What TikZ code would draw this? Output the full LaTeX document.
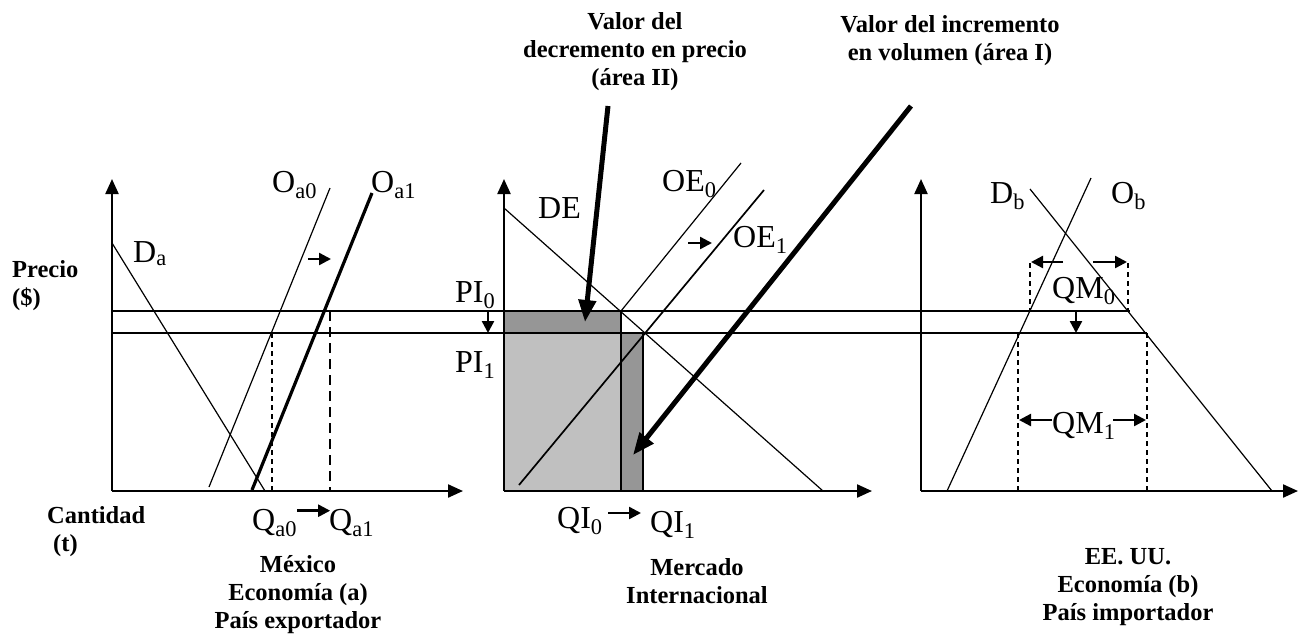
\documentclass[tikz,border=0pt]{standalone}
\usepackage{fontspec}
\setmainfont{Liberation Serif}
\usetikzlibrary{arrows.meta}
\definecolor{darkg}{RGB}{150,150,150}
\definecolor{lightg}{RGB}{192,192,192}
\begin{document}
\begin{tikzpicture}[x=1pt,y=-1pt,
 lbl/.style={font=\fontsize{32}{34}\selectfont, inner sep=0pt, anchor=base west},
 blbl/.style={font=\bfseries\fontsize{24.5}{28}\selectfont, inner sep=0pt, align=center},
 axis/.style={line width=2.2pt, -{Triangle[length=15pt,width=13pt]}},
 thinl/.style={line width=1.2pt},
 thickl/.style={line width=3.2pt},
 dsh/.style={line width=1.3pt, dash pattern=on 5pt off 4pt},
 dshthick/.style={line width=2.6pt, dash pattern=on 10pt off 6pt},
 sarrow/.style={line width=2.4pt, -{Triangle[length=12pt,width=12pt]}},
 bigarrow/.style={line width=5pt, -{Triangle[length=22pt,width=17pt]}},
]
\useasboundingbox (0,0) rectangle (1298,633);

% ---------- shaded areas (middle panel) ----------
\fill[darkg] (504,311) rectangle (621,333);
\fill[lightg] (504,333) rectangle (621,491);
\fill[darkg] (621,333) rectangle (643,491);
\draw[thinl] (621,311) -- (621,491);
\draw[line width=1.5pt] (643,333) -- (643,491);

% ---------- axes ----------
\coordinate (oa) at (112,491);
\coordinate (ob) at (504,491);
\coordinate (oc) at (921,491);
\coordinate (ya) at (112,179);
\coordinate (xa) at (463,491);
\coordinate (yb) at (504,179);
\coordinate (xb) at (872,491);
\coordinate (yc) at (921,179);
\coordinate (xc) at (1298,491);
\draw[axis] (oa) -- (ya);
\draw[axis] (oa) -- (xa);
\draw[axis] (ob) -- (yb);
\draw[axis] (ob) -- (xb);
\draw[axis] (oc) -- (yc);
\draw[axis] (oc) -- (xc);

% ---------- price lines ----------
\coordinate (p0s) at (112,311);
\coordinate (p0e) at (1130,311);
\coordinate (p1s) at (112,333);
\coordinate (p1e) at (1147,333);
\draw[thinl] (p0s) -- (p0e);
\draw[line width=2.6pt] (p1s) -- (p1e);

% ---------- left panel ----------
\draw[thinl] (112,243) -- (265,491);
\draw[thinl] (209,487) -- (330,188);
\draw[thickl] (252,490) -- (372,193);
\draw[dsh] (272,333) -- (272,491);
\draw[dshthick] (330,311) -- (330,491);
\draw[sarrow] (308,259) -- (331,259);

\node[lbl] (Da) at (133,262) {D\textsubscript{a}};
\node[lbl] (Oa0) at (272,192) {O\textsubscript{a0}};
\node[lbl] (Oa1) at (371,192) {O\textsubscript{a1}};
\node[lbl] (Qa0) at (252,530) {Q\textsubscript{a0}};
\node[lbl] (Qa1) at (329,530) {Q\textsubscript{a1}};
\draw[sarrow] (Qa0.east) ++(0,-12) -- ++(33,0);

\node[blbl, align=left, anchor=west] (precio) at (12,286) {\fontsize{24.5}{32}\selectfont Precio\\(\$)};
\node[blbl, align=left, anchor=west] (cant) at (47,532) {\fontsize{24.5}{31}\selectfont Cantidad\\\hspace{6pt}(t)};
\node[blbl] (mex) at (298,595) {México\\Economía (a)\\País exportador};

% ---------- middle panel ----------
\draw[thinl] (504,208) -- (823,491);
\draw[thinl] (621,311) -- (741,163);
\draw[line width=1.7pt] (519,485) -- (764,190);
\draw[sarrow] (688,243) -- (712,243);
\draw[sarrow] (488,312) -- (488,333);

\node[lbl] (DE) at (538,218) {DE};
\node[lbl] (OE0) at (662,191) {OE\textsubscript{0}};
\node[lbl] (OE1) at (733,247) {OE\textsubscript{1}};
\node[lbl] (PI0) at (455,302) {PI\textsubscript{0}};
\node[lbl] (PI1) at (455,372) {PI\textsubscript{1}};
\node[lbl] (QI0) at (557,528) {QI\textsubscript{0}};
\node[lbl] (QI1) at (650,532) {QI\textsubscript{1}};
\draw[sarrow] (608,513) -- (641,513);

\node[blbl] (vdp) at (635,52) {Valor del\\decremento en precio\\(área II)};
\node[blbl] (vdi) at (950,41) {Valor del incremento\\en volumen (área I)};
\coordinate (tA) at (585,322);
\coordinate (tB) at (633,455);
\draw[bigarrow] (608,106) -- (tA);
\draw[bigarrow] (911,106) -- (tB);

\node[blbl] (mer) at (697,581) {Mercado\\Internacional};

% ---------- right panel ----------
\draw[thinl] (1030,189) -- (1272,491);
\draw[thinl] (947,491) -- (1091,178);
\draw[dsh] (1030,263) -- (1030,311);
\draw[dsh] (1128,263) -- (1128,311);
\draw[sarrow] (1063,262) -- (1031,262);
\draw[sarrow] (1093,262) -- (1127,262);
\draw[sarrow] (1076,312) -- (1076,333);
\draw[dsh] (1018,333) -- (1018,491);
\draw[dsh] (1147,333) -- (1147,491);
\draw[sarrow] (1052,420) -- (1019,420);
\draw[sarrow] (1113,420) -- (1146,420);

\node[lbl] (Db) at (990,203) {D\textsubscript{b}};
\node[lbl] (Ob) at (1111,203) {O\textsubscript{b}};
\node[lbl] (QM0) at (1052,298) {QM\textsubscript{0}};
\node[lbl] (QM1) at (1052,433) {QM\textsubscript{1}};

\node[blbl] (usa) at (1128,587) {EE. UU.\\Economía (b)\\País importador};
\end{tikzpicture}
\end{document}
